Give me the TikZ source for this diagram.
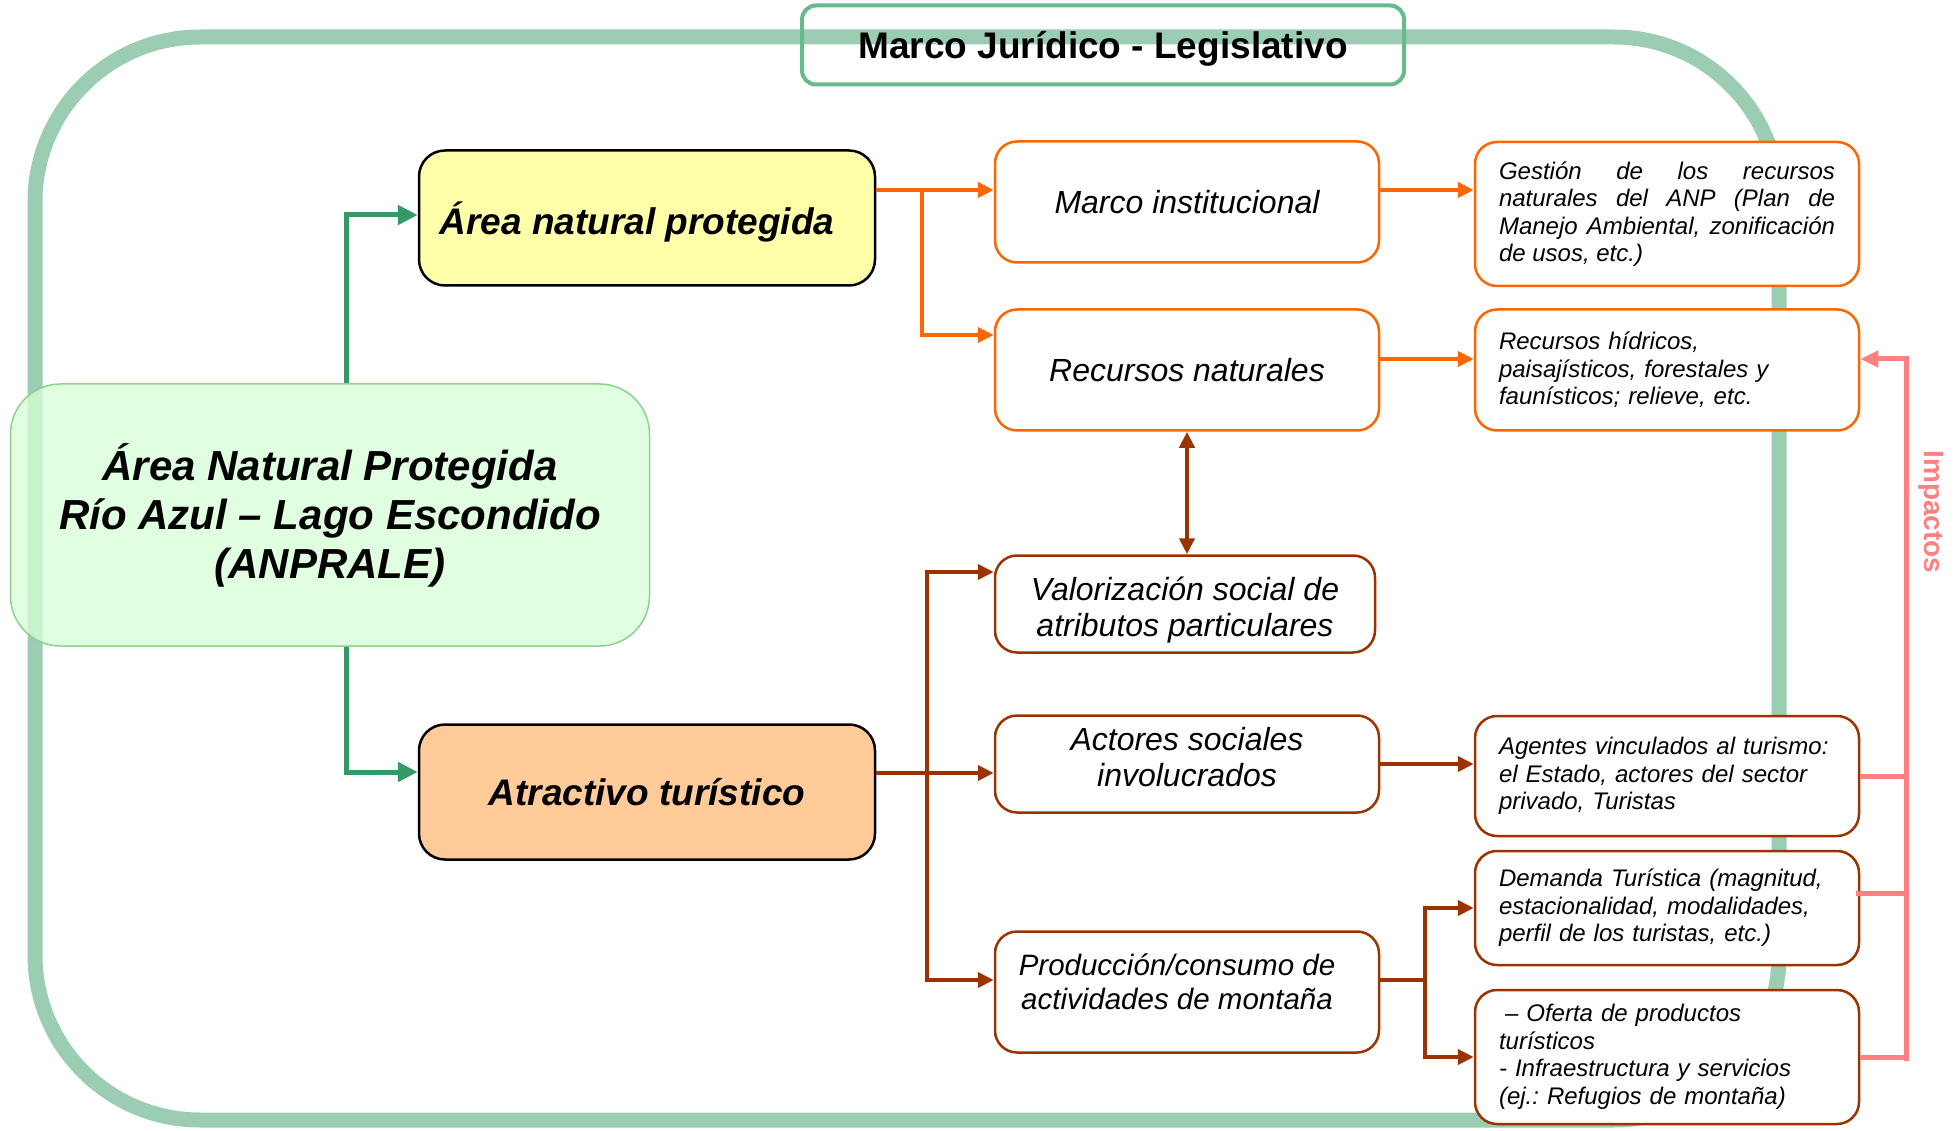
\documentclass[tikz,border=0pt]{standalone}
\usepackage{fontspec}
\setmainfont{Liberation Sans}
\usetikzlibrary{arrows.meta}

\definecolor{marco}{RGB}{155,205,178}
\definecolor{marcoborde}{RGB}{102,187,140}
\definecolor{verde}{RGB}{52,153,102}
\definecolor{naranja}{RGB}{255,102,0}
\definecolor{marron}{RGB}{153,51,0}
\definecolor{rosa}{RGB}{255,128,128}
\definecolor{amarillo}{RGB}{255,255,170}
\definecolor{salmon}{RGB}{255,204,153}
\definecolor{verdeclaro}{RGB}{214,255,214}
\definecolor{verdeborde}{RGB}{140,210,140}

% texto desplazado dentro de una caja
\newcommand{\mover}[3]{\raisebox{#2}[\height][\depth]{\begin{tabular}{@{}c@{}}#3\end{tabular}}\hspace*{#1}}

\begin{document}
\begin{tikzpicture}[x=1pt,y=-1pt,
    caja/.style={draw,line width=2.5pt,rounded corners=22pt,fill=white,inner sep=0pt},
    principal/.style={caja,draw=black,rounded corners=26pt,minimum width=456pt,minimum height=135pt,
      font=\fontsize{37}{44}\selectfont\bfseries\itshape},
    medio/.style={caja,minimum width=384pt,align=center,font=\fontsize{32}{36}\selectfont\itshape},
    derecha/.style={caja,minimum width=384pt,text width=336pt,align=left,
      font=\fontsize{24}{27.5}\selectfont\itshape\frenchspacing},
    lnar/.style={naranja,line width=4pt},
    lmar/.style={marron,line width=4pt},
    lros/.style={rosa,line width=5pt},
    flechanar/.style={lnar,-{Triangle[length=16pt,width=15pt]}},
    flechamar/.style={lmar,-{Triangle[length=16pt,width=15pt]}},
    flechaver/.style={verde,line width=5pt,-{Triangle[length=20pt,width=19pt]}},
    flecharos/.style={lros,-{Triangle[length=18pt,width=16pt]}}]
  \useasboundingbox (0,0) rectangle (1960,1131);

  % marco juridico
  \draw[marco,line width=15pt,rounded corners=165pt] (35,37) rectangle (1779,1120);
  \node[draw=marcoborde,line width=4pt,rounded corners=14pt,minimum width=602pt,minimum height=79pt,
    font=\fontsize{37}{44}\selectfont\bfseries] (mj) at (1103,45)
    {\raisebox{-4pt}[\height][\depth]{Marco Jurídico - Legislativo}};

  \node[draw=verdeborde,line width=1.5pt,fill=verdeclaro,fill opacity=0.75,text opacity=1,
    rounded corners=50pt,minimum width=639pt,minimum height=262pt,align=center,
    font=\fontsize{42}{49}\selectfont\bfseries\itshape] (anp) at (330,515)
    {Área Natural Protegida\\Río Azul – Lago Escondido\\(ANPRALE)};

  \node[principal,fill=amarillo] (an) at (647,218)
    {\raisebox{-4pt}[\height][\depth]{Área natural protegida}\hspace*{20pt}};
  \node[principal,fill=salmon] (at) at (647,792) {Atractivo turístico};

  \node[medio,draw=naranja,minimum height=121pt] (mi) at (1187,202) {Marco institucional};
  \node[medio,draw=naranja,minimum height=121pt] (rn) at (1187,370) {Recursos naturales};
  \node[medio,draw=marron,minimum width=380pt,minimum height=97pt] (va) at (1185,604)
    {\mover{0pt}{-7.5pt}{Valorización social de\\atributos particulares}};
  \node[medio,draw=marron,minimum height=97pt] (ac) at (1187,764)
    {\mover{0pt}{2.5pt}{Actores sociales\\involucrados}};
  \node[medio,draw=marron,minimum height=121pt,font=\fontsize{29.5}{33.5}\selectfont\itshape] (pr) at (1187,992)
    {\mover{20pt}{6pt}{Producción/consumo de\\actividades de montaña}};

  \node[derecha,draw=naranja,minimum height=144pt,align=justify] (ge) at (1667,214)
    {\makebox[336pt][s]{Gestión de los recursos}\\\makebox[336pt][s]{naturales del ANP (Plan de}\\
     \makebox[336pt][s]{Manejo Ambiental, zonificación}\\de usos, etc.)};
  \node[derecha,draw=naranja,minimum height=121pt] (rh) at (1667,370)
    {Recursos hídricos,\\paisajísticos, forestales y\\faunísticos; relieve, etc.};
  \node[derecha,draw=marron,minimum height=120pt] (ag) at (1667,776)
    {Agentes vinculados al turismo:\\el Estado, actores del sector\\privado, Turistas};
  \node[derecha,draw=marron,minimum height=114pt] (de) at (1667,908)
    {Demanda Turística (magnitud,\\estacionalidad, modalidades,\\perfil de los turistas, etc.)};
  \node[derecha,draw=marron,minimum height=134pt] (of) at (1667,1057)
    {\hspace{0.25em}– Oferta de productos\\turísticos\\- Infraestructura y servicios\\(ej.: Refugios de montaña)};

  % flechas verdes
  \draw[flechaver] ([xshift=16pt]anp.north) |- ([yshift=3pt]an.west);
  \draw[flechaver] ([xshift=16pt]anp.south) |- ([yshift=20pt]at.west);

  % rama naranja
  \coordinate (ra) at (922,190);
  \draw[lnar] (an.east |- ra) -- (ra);
  \draw[flechanar] (ra) -- (mi.west |- ra);
  \draw[flechanar] (ra) |- ([yshift=35pt]rn.west);
  \draw[flechanar] ([yshift=12pt]mi.east) -- ([yshift=12pt]mi.east -| ge.west);
  \draw[flechanar] ([yshift=11pt]rn.east) -- ([yshift=11pt]rn.east -| rh.west);

  % rama marron
  \draw[lmar,{Triangle[length=16pt,width=15pt]}-{Triangle[length=16pt,width=15pt]}] (rn.south) -- (rn.south |- va.north);
  \coordinate (rb) at (927,773);
  \draw[lmar] (at.east |- rb) -- (rb);
  \draw[flechamar] (rb) -- (ac.west |- rb);
  \draw[flechamar] (rb) |- ([yshift=32pt]va.west);
  \draw[flechamar] (rb) |- ([yshift=12pt]pr.west);
  \draw[flechamar] (ac.east) -- (ac.east -| ag.west);
  \coordinate (rc) at (1425,980);
  \draw[lmar] ([yshift=12pt]pr.east) -- (rc);
  \draw[flechamar] (rc) |- (de.west);
  \draw[flechamar] (rc) |- (of.west);

  % impactos
  \coordinate (ia) at (1906,359);
  \coordinate (ib) at (1906,1061);
  \draw[flecharos] (ib) -- (ia) -- (ia -| rh.east);
  \draw[lros] (ag.east) -- (ag.east -| ia);
  \draw[lros] ([xshift=-4pt,yshift=15pt]de.east) -- ([yshift=15pt]de.east -| ia);
  \draw[lros] (of.east) -- (of.east -| ib);
  \node[rotate=-90,text=rosa,font=\fontsize{28}{32}\selectfont\bfseries] (imp) at (1931,512) {Impactos};
\end{tikzpicture}
\end{document}
